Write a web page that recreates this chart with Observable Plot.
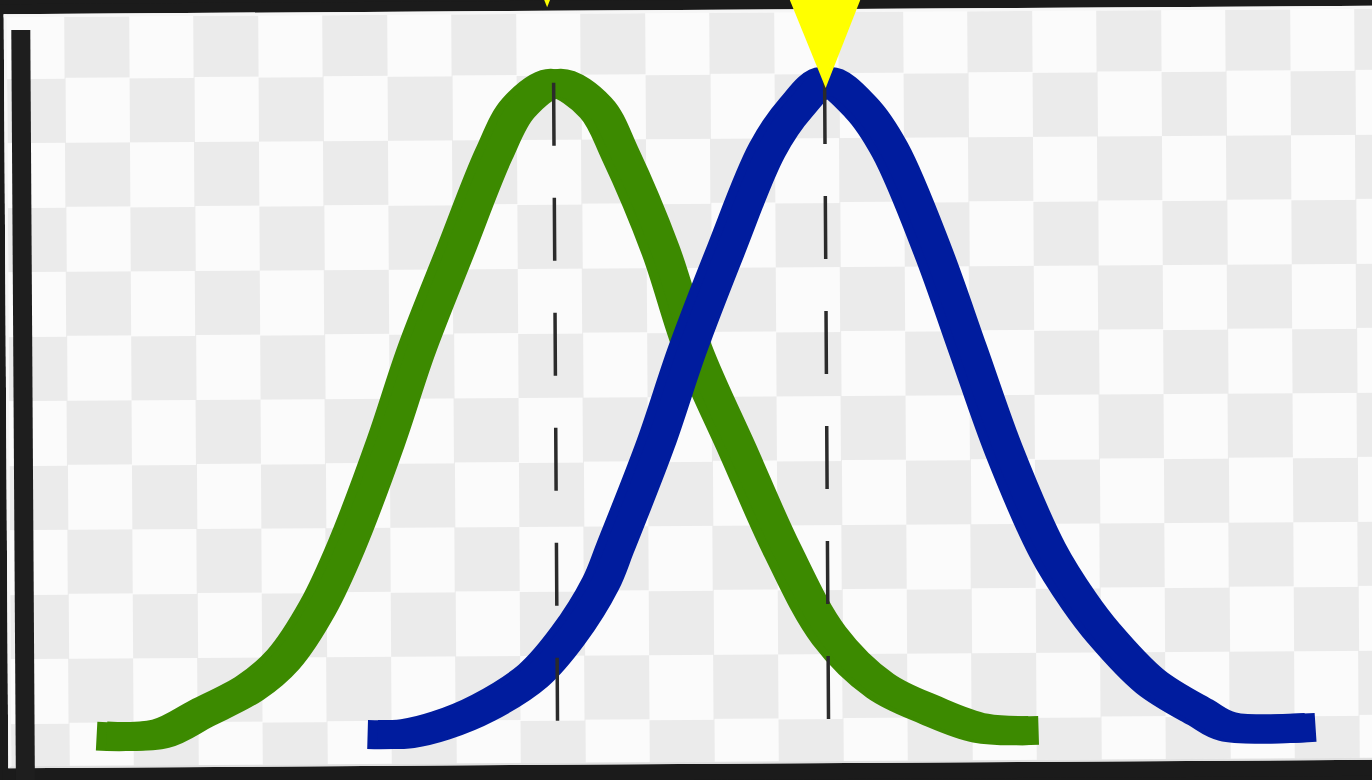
<!DOCTYPE html>
<html>
<head>
<meta charset="utf-8">
<script src="https://cdn.jsdelivr.net/npm/d3@7"></script>
<script src="https://cdn.jsdelivr.net/npm/@observablehq/plot@0.6"></script>
<style>
  html, body { margin: 0; padding: 0; width: 1372px; height: 780px; overflow: hidden; background: #1b1b1b; }
  #wrap {
    position: relative; width: 1372px; height: 780px; background: #1b1b1b;
    transform: rotate(-0.35deg); transform-origin: 686px 390px;
  }
  #checker {
    position: absolute; left: 6px; top: 10px; width: 1400px; height: 749px;
    border-left: 3px solid #f6f6f6; border-top: 3px solid #f6f6f6; border-bottom: 2px solid #e0e0e0;
    background-color: #fbfbfb;
    background-image: conic-gradient(#ebebeb 0 25%, #fbfbfb 0 50%, #ebebeb 0 75%, #fbfbfb 0 100%);
    background-size: 129px 129px;
    background-position: -6.5px -3px;
  }
  #chart { position: absolute; left: 0; top: 0; }
  #chart svg { overflow: visible; }
</style>
</head>
<body>
<div id="wrap"><div id="checker"></div><div id="chart"></div></div>
<script>
// Green distribution (x position, density as % of peak)
const greenX = [9.9, 15.8, 19.9, 24.8, 28.1, 31.6, 34.5, 38.5, 41.6, 45.6, 49.5, 52.0, 55.7, 59.7, 62.1, 66.1, 69.3, 73.7, 78.1, 82.7, 87.8, 92.8, 97.8, 103.1];
const greenY = [0, 0.3, 3.4, 7.3, 11.6, 19.6, 29.0, 45.0, 59.0, 74.4, 89.2, 96.3, 100, 96.2, 89.1, 74.2, 58.8, 43.3, 27.9, 14.8, 7.0, 3.2, 0.4, 0];

// Blue distribution
const blueX = [37.0, 40.5, 43.8, 48.1, 53.1, 56.6, 59.9, 61.4, 65.5, 68.7, 72.6, 76.8, 79.7, 82.7, 86.2, 89.1, 93.3, 96.8, 100.3, 104.6, 107.7, 110.2, 114.8, 119.8, 122.5, 130.8];
const blueY = [0, 0.1, 1.3, 4.0, 8.9, 15.0, 23.0, 28.6, 44.5, 58.8, 74.1, 89.5, 96.0, 100, 96.0, 89.4, 73.9, 58.5, 43.1, 27.7, 19.9, 14.8, 7.4, 2.6, 0.4, 0.2];

// Means (dashed markers) and peak level
const meanX = [55.5, 82.6];
const meanTop = [100, 100];

// Yellow pointer markers
const pointerX = [54.9, 82.7];
const pointerY = [111.7, 99.0];

// Y axis line
const axisX = [2.25];
const axisTop = 108.6;

const xDomain = [0, 137.2];
const yDomain = [-7.38, 112.6];

const green = greenX.map((x, i) => ({x, y: greenY[i]}));
const blue = blueX.map((x, i) => ({x, y: blueY[i]}));
const means = meanX.map((x, i) => ({x, top: meanTop[i]}));
const pointers = pointerX.map((x, i) => ({x, y: pointerY[i]}));

const pointerSymbol = {
  draw(context) {
    const h = 140, w = 0.4 * h;
    context.moveTo(0, 0);
    context.lineTo(-w, -h);
    context.lineTo(w, -h);
    context.closePath();
  }
};

// thick pixel-style stroke: two passes slightly offset horizontally
const curveMarks = (data, color) => [-5, 5].map(dx =>
  Plot.line(data, {x: "x", y: "y", dx, stroke: color, strokeWidth: 29, curve: "catmull-rom", strokeLinecap: "butt", strokeLinejoin: "round"})
);

const chart = Plot.plot({
  width: 1372,
  height: 780,
  margin: 0,
  x: {domain: xDomain, axis: null},
  y: {domain: yDomain, axis: null},
  style: {background: "transparent", overflow: "visible"},
  marks: [
    Plot.ruleX(axisX, {x: d => d, y1: axisTop, y2: yDomain[0], stroke: "#1e1e1e", strokeWidth: 19}),
    ...curveMarks(green, "#3c8a00"),
    ...curveMarks(blue, "#001c9e"),
    Plot.ruleX(means, {x: "x", y1: "top", y2: 0, stroke: "#2b2b2b", strokeWidth: 3.5, strokeDasharray: "63,52"}),
    Plot.dot(pointers, {x: "x", y: "y", symbol: pointerSymbol, r: 10, fill: "#ffff00", stroke: "none"})
  ]
});
document.getElementById("chart").appendChild(chart);
</script>
</body>
</html>
